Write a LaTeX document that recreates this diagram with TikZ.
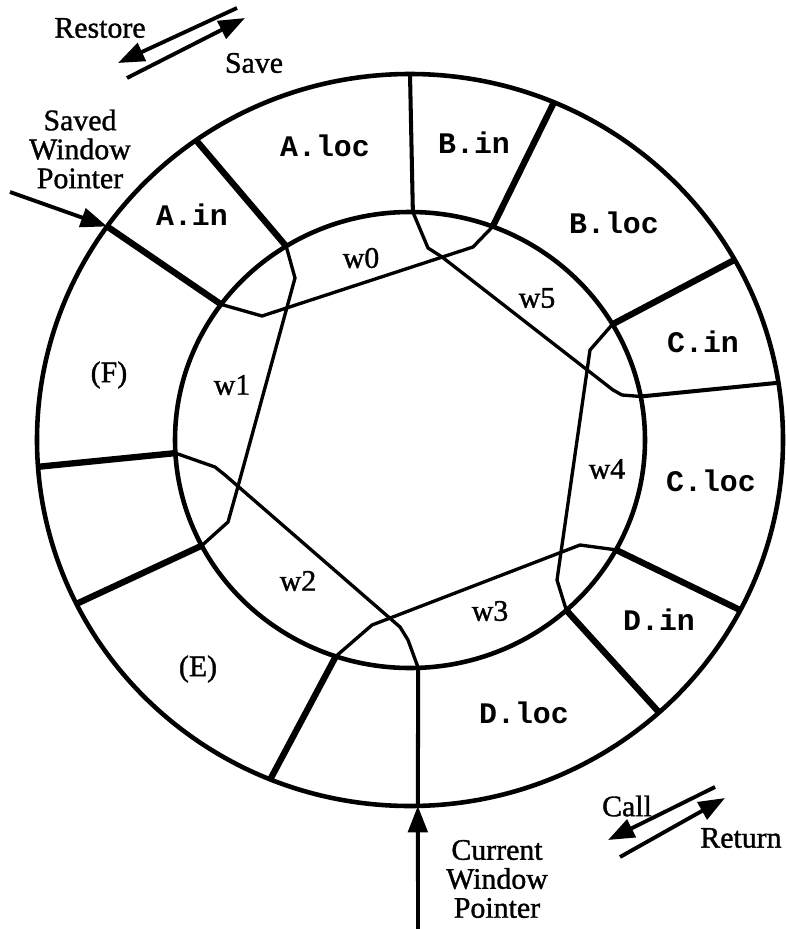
\documentclass[tikz,border=0pt]{standalone}
\usepackage{fontspec}
\setmainfont{Liberation Serif}[FakeBold=1.2]
\newfontfamily\segfont{Liberation Mono}
\usepackage{tikz}
\usetikzlibrary{arrows.meta}

\tikzset{
  ring/.style={line width=2.6pt},
  divider/.style={line width=3.6pt},
  thindivider/.style={line width=2.3pt},
  window/.style={line width=1.9pt, line join=round},
  pointer/.style={line width=2.2pt, ->},
  seg/.style={font=\segfont\bfseries\fontsize{17}{17}\selectfont},
  lbl/.style={font=\fontsize{17}{16.5}\selectfont, align=center}
}

\begin{document}
\begin{tikzpicture}[x=0.02cm, y=-0.02cm, >={Triangle[length=15pt, width=11pt]}]
  \useasboundingbox (0,0) rectangle (785,929);

  % Define nodes

  \coordinate (c) at (410,440);
  \begin{scope}[shift={(c)}]
    % points on the outer ring
    \coordinate (o1) at (235:373 and 366);
    \coordinate (o2) at (215.7:373 and 366);
    \coordinate (o3) at (270:373 and 366);
    \coordinate (o4) at (292.7:373 and 366);
    \coordinate (o5) at (330.5:373 and 366);
    \coordinate (o6) at (351:373 and 366);
    \coordinate (o7) at (27.7:373 and 366);
    \coordinate (o8) at (48.1:373 and 366);
    \coordinate (o9) at (88.8:373 and 366);
    \coordinate (o10) at (112:373 and 366);
    \coordinate (o11) at (153.4:373 and 366);
    \coordinate (o12) at (175.8:373 and 366);
    % points on the inner ring
    \coordinate (i1) at (238.2:235 and 228);
    \coordinate (i2) at (216.5:235 and 228);
    \coordinate (i3) at (270.7:235 and 228);
    \coordinate (i4) at (290.6:235 and 228);
    \coordinate (i5) at (329.5:235 and 228);
    \coordinate (i6) at (349:235 and 228);
    \coordinate (i7) at (28.8:235 and 228);
    \coordinate (i8) at (48.3:235 and 228);
    \coordinate (i9) at (88:235 and 228);
    \coordinate (i10) at (108.4:235 and 228);
    \coordinate (i11) at (152.4:235 and 228);
    \coordinate (i12) at (176.7:235 and 228);
  \end{scope}

  \coordinate (rs1) at (237,8);
  \coordinate (rs2) at (118,63);
  \coordinate (sv1) at (127,78);
  \coordinate (sv2) at (245,18);
  \coordinate (cl1) at (715,787);
  \coordinate (cl2) at (608,840);
  \coordinate (rt1) at (620,857);
  \coordinate (rt2) at (725,798);
  \coordinate (swp) at (10,192);
  \coordinate (cwp) at (418,929);

  \node[lbl] (restore) at (100,28) {Restore};
  \node[lbl] (save) at (254,63) {Save};
  \node[lbl] (saved) at (80,149) {Saved\\Window\\Pointer};
  \node[lbl] (current) at (497,879) {Current\\Window\\Pointer};
  \node[lbl] (call) at (627,806) {Call};
  \node[lbl] (ret) at (741,838) {Return};

  % Rings and frames
  \draw[ring] (c) ellipse [x radius=373, y radius=366];
  \draw[ring] (c) ellipse [x radius=235, y radius=228];

  \draw[divider] (o1) -- (i1);
  \draw[divider] (o2) -- (i2);
  \draw[thindivider] (o3) -- (i3);
  \draw[divider] (o4) -- (i4);
  \draw[divider] (o5) -- (i5);
  \draw[thindivider] (o6) -- (i6);
  \draw[divider] (o7) -- (i7);
  \draw[divider] (o8) -- (i8);
  \draw[thindivider] (o9) -- (i9);
  \draw[divider] (o10) -- (i10);
  \draw[divider] (o11) -- (i11);
  \draw[divider] (o12) -- (i12);

  % Windows
  \draw[window] (i2) -- (262,316) -- (473,247) -- (i4);
  \draw[window] (i1) -- (295,278) -- (237,490) -- (228,522) -- (i11);
  \draw[window] (i12) -- (215,467) -- (225,475) -- (400,627) -- (408,640) -- (i9);
  \draw[window] (i7) -- (580,545) -- (372,625) -- (i10);
  \draw[window] (i5) -- (590,350) -- (557,580) -- (i8);
  \draw[window] (i3) -- (428,248) -- (442,257) -- (613,390) -- (622,395) -- (i6);

  % Add labels inside frames
  \node[seg] (ain) at (192,215) {A.in};
  \node[seg] (aloc) at (325,146) {A.loc};
  \node[seg] (bin) at (474,143) {B.in};
  \node[seg] (bloc) at (614,223) {B.loc};
  \node[seg] (cin) at (703,342) {C.in};
  \node[seg] (cloc) at (711,481) {C.loc};
  \node[seg] (din) at (659,620) {D.in};
  \node[seg] (dloc) at (524,713) {D.loc};
  \node[lbl] (f) at (109,375) {(F)};
  \node[lbl] (e) at (198,669) {(E)};

  \node[lbl] (w0) at (361,258) {w0};
  \node[lbl] (w1) at (232,385) {w1};
  \node[lbl] (w2) at (298,581) {w2};
  \node[lbl] (w3) at (490,611) {w3};
  \node[lbl] (w4) at (607,469) {w4};
  \node[lbl] (w5) at (537,298) {w5};

  % Draw arrows
  \draw[pointer] (rs1) -- (rs2);
  \draw[pointer] (sv1) -- (sv2);
  \draw[pointer] (cl1) -- (cl2);
  \draw[pointer] (rt1) -- (rt2);
  \draw[pointer] (swp) -- (o2);
  \draw[pointer] (cwp) -- (o9);
\end{tikzpicture}
\end{document}
